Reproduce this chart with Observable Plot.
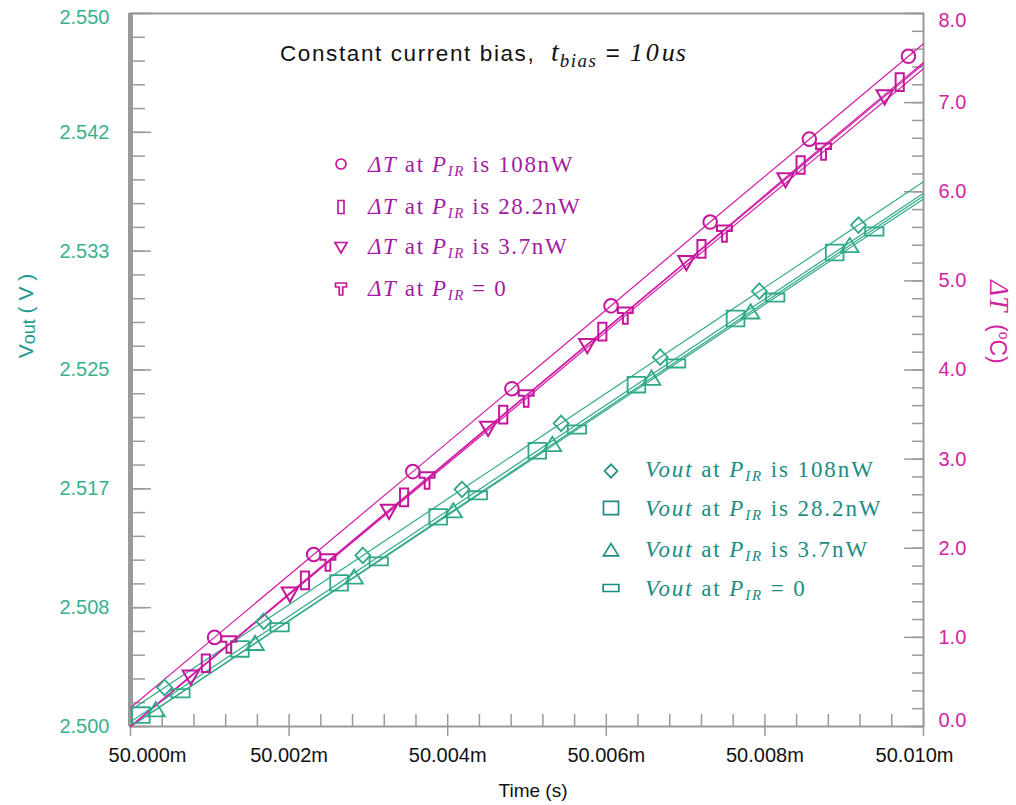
<!DOCTYPE html>
<html><head><meta charset="utf-8">
<script src="https://cdn.jsdelivr.net/npm/d3@7"></script>
<script src="https://cdn.jsdelivr.net/npm/@observablehq/plot@0.6"></script>
<style>
body{margin:0;background:#fff;}
#chart{position:relative;width:1016px;height:805px;}
</style>
</head><body><div id="chart"></div>
<script>
// ---------- data ----------
const xDomain = [50.000, 50.010];      // ms
const yDomain = [2.500, 2.550];        // Vout (V)
const dtDomain = [0, 8];               // ΔT (°C)

// time values: microseconds after 50.000 ms
// ΔT series (right axis)
const dt108_t = [1.06, 2.31, 3.56, 4.81, 6.06, 7.31, 8.56, 9.81];
const dt108_v = [1.00, 1.93, 2.86, 3.79, 4.72, 5.66, 6.59, 7.52];
const dt108_ends = [0.21, 7.66];
const dt28_t = [0.95, 2.20, 3.45, 4.70, 5.95, 7.20, 8.45, 9.70];
const dt28_v = [0.71, 1.64, 2.57, 3.50, 4.43, 5.36, 6.30, 7.23];
const dt28_ends = [0, 7.45];
const dt37_t = [0.76, 2.01, 3.26, 4.51, 5.76, 7.01, 8.26, 9.51];
const dt37_v = [0.56, 1.49, 2.42, 3.35, 4.28, 5.21, 6.14, 7.07];
const dt37_ends = [0, 7.43];
const dt0_t = [1.24, 2.49, 3.74, 4.99, 6.24, 7.49, 8.74];
const dt0_v = [0.92, 1.84, 2.76, 3.68, 4.61, 5.53, 6.45];
const dt0_ends = [0, 7.38];

// Vout series (left axis)
const vo108_t = [0.43, 1.68, 2.93, 4.18, 5.43, 6.68, 7.93, 9.18];
const vo108_v = [2.50273, 2.50737, 2.51200, 2.51663, 2.52126, 2.52590, 2.53053, 2.53516];
const vo108_ends = [2.50114, 2.53820];
const vo28_t = [0.13, 1.38, 2.63, 3.88, 5.13, 6.38, 7.63, 8.88];
const vo28_v = [2.50080, 2.50544, 2.51007, 2.51470, 2.51934, 2.52397, 2.52861, 2.53324];
const vo28_ends = [2.50032, 2.53739];
const vo37_t = [0.32, 1.57, 2.82, 4.07, 5.32, 6.57, 7.82, 9.07];
const vo37_v = [2.50119, 2.50584, 2.51049, 2.51514, 2.51979, 2.52444, 2.52909, 2.53374];
const vo37_ends = [2.50000, 2.53720];
const vo0_t = [0.63, 1.88, 3.13, 4.38, 5.63, 6.88, 8.13, 9.38];
const vo0_v = [2.50233, 2.50696, 2.51158, 2.51621, 2.52083, 2.52546, 2.53008, 2.53471];
const vo0_ends = [2.50000, 2.53700];

// ticks
const xMajor = [50.000, 50.002, 50.004, 50.006, 50.008, 50.010];
const xLabels = ["50.000m", "50.002m", "50.004m", "50.006m", "50.008m", "50.010m"];
const yMajor = [2.500, 2.500 + 0.05/6, 2.500 + 0.1/6, 2.525, 2.500 + 0.2/6, 2.500 + 0.25/6, 2.550];
const yLabels = ["2.500", "2.508", "2.517", "2.525", "2.533", "2.542", "2.550"];
const dtMajor = [0, 1, 2, 3, 4, 5, 6, 7, 8];
const dtLabels = ["0.0", "1.0", "2.0", "3.0", "4.0", "5.0", "6.0", "7.0", "8.0"];

const legendDT = [" is 108nW", " is 28.2nW", " is 3.7nW", " = 0"];
const legendVo = [" is 108nW", " is 28.2nW", " is 3.7nW", " = 0"];

// ---------- helpers ----------
const toV = d => yDomain[0] + (d - dtDomain[0]) * (yDomain[1] - yDomain[0]) / (dtDomain[1] - dtDomain[0]);
const tms = us => 50 + us / 1000;
function pts(ts, vs, conv = v => v) { return ts.map((t, i) => ({t: tms(t), v: conv(vs[i])})); }
function linePts(ts, vs, ends, conv = v => v) {
  return [{t: tms(0), v: conv(ends[0])}, ...pts(ts, vs, conv), {t: tms(10), v: conv(ends[1])}];
}
function poly(points) {
  return {draw(ctx, size) {
    const r = Math.sqrt(size / Math.PI);
    points.forEach(([x, y], i) => i ? ctx.lineTo(x * r, y * r) : ctx.moveTo(x * r, y * r));
    ctx.closePath();
  }};
}
const rectSym = (w, h) => poly([[-w, -h], [w, -h], [w, h], [-w, h]]);
const symTall = rectSym(0.6, 1.3);
const symInvTri = poly([[-1.2, -0.9], [1.2, -0.9], [0, 1.2]]);
const symT = poly([[-1.1, -1.2], [1.1, -1.2], [1.1, -0.4], [0.35, -0.4], [0.35, 1.2], [-0.35, 1.2], [-0.35, -0.4], [-1.1, -0.4]]);
const symDiamond = poly([[0, -1.15], [1.1, 0], [0, 1.15], [-1.1, 0]]);
const symSquare = rectSym(1.3, 1.15);
const symTri = poly([[-1.3, 1.0], [1.3, 1.0], [0, -1.1]]);
const symFlat = rectSym(1.35, 0.6);
const symCircle = {draw(ctx, size) { const r = Math.sqrt(size / Math.PI); ctx.moveTo(r, 0); ctx.arc(0, 0, r, 0, 2 * Math.PI); }};

const MAG = "#d21ca6", MAGM = "#c4179c", MAGT = "#d424a2", MAGL = "#a21ca2";
const TEA = "#30a98a", TEAT = "#3bb08e", TEAL2 = "#1c8c84";
const GRAY = "#9a9a9a";

const dtSeries = [
  {t: dt108_t, v: dt108_v, e: dt108_ends, s: symCircle, r: 6.8},
  {t: dt28_t, v: dt28_v, e: dt28_ends, s: symTall, r: 6.8},
  {t: dt37_t, v: dt37_v, e: dt37_ends, s: symInvTri, r: 6.8},
  {t: dt0_t, v: dt0_v, e: dt0_ends, s: symT, r: 6.8}
];
const voSeries = [
  {t: vo108_t, v: vo108_v, e: vo108_ends, s: symDiamond, r: 6.8},
  {t: vo28_t, v: vo28_v, e: vo28_ends, s: symSquare, r: 6.8},
  {t: vo37_t, v: vo37_v, e: vo37_ends, s: symTri, r: 6.8},
  {t: vo0_t, v: vo0_v, e: vo0_ends, s: symFlat, r: 6.8}
];

const xMinor = d3.range(0, 26).map(i => 50 + i * 0.0004).filter(v => !xMajor.some(m => Math.abs(m - v) < 1e-9));
const yMinor = d3.range(0, 31).map(i => 2.5 + i * 0.05 / 30);
const dtMinor = d3.range(0, 41).map(i => i * 0.2);

const marks = [
  Plot.frame({stroke: GRAY, strokeWidth: 2}),
  Plot.ruleX([xDomain[0]], {stroke: GRAY, strokeWidth: 5}),
  // left axis
  Plot.axisY(yMinor, {anchor: "left", tickSize: 15, dx: 15, fill: "none", stroke: GRAY, strokeWidth: 1.5, label: null}),
  Plot.axisY(yMajor, {anchor: "left", tickSize: 21, dx: 21, fill: "none", stroke: GRAY, strokeWidth: 1.5, label: null}),
  Plot.axisY(yMajor.slice(0, 6), {anchor: "left", tickSize: 0, tickPadding: 21, fill: TEAT, fontSize: 20,
    tickFormat: v => yLabels[yMajor.indexOf(v)], label: null}),
  Plot.axisY(yMajor.slice(6), {anchor: "left", tickSize: 0, tickPadding: 21, dy: 4, fill: TEAT, fontSize: 20,
    tickFormat: v => yLabels[yMajor.indexOf(v)], label: null}),
  // right axis
  Plot.axisY(dtMinor.map(toV), {anchor: "right", tickSize: 12, dx: -12, fill: "none", stroke: GRAY, strokeWidth: 1.5, label: null}),
  Plot.axisY(dtMajor.map(toV), {anchor: "right", tickSize: 20, dx: -20, fill: "none", stroke: GRAY, strokeWidth: 1.5, label: null}),
  Plot.axisY(dtMajor.slice(1, 8).map(toV), {anchor: "right", tickSize: 0, tickPadding: 15, fill: MAGT, fontSize: 20,
    tickFormat: v => dtLabels[Math.round((v - 2.5) * 160)], label: null}),
  Plot.axisY([toV(0)], {anchor: "right", tickSize: 0, tickPadding: 15, dy: -6, fill: MAGT, fontSize: 20,
    tickFormat: () => dtLabels[0], label: null}),
  Plot.axisY([toV(8)], {anchor: "right", tickSize: 0, tickPadding: 15, dy: 7, fill: MAGT, fontSize: 20,
    tickFormat: () => dtLabels[8], label: null}),
  // bottom axis
  Plot.axisX(xMinor, {anchor: "bottom", tickSize: 12, dy: -12, fill: "none", stroke: GRAY, strokeWidth: 1.5, label: null}),
  Plot.axisX(xMajor, {anchor: "bottom", tickSize: 22, dy: -12, fill: "none", stroke: GRAY, strokeWidth: 1.5, label: null}),
  Plot.axisX(xMajor.slice(1, 5), {anchor: "bottom", tickSize: 0, tickPadding: 21, fill: "#111", fontSize: 20,
    tickFormat: v => xLabels[xMajor.indexOf(v)], label: null}),
  Plot.axisX([xMajor[0]], {anchor: "bottom", tickSize: 0, tickPadding: 21, dx: 17, fill: "#111", fontSize: 20,
    tickFormat: () => xLabels[0], label: null}),
  Plot.axisX([xMajor[5]], {anchor: "bottom", tickSize: 0, tickPadding: 21, dx: -9, fill: "#111", fontSize: 20,
    tickFormat: () => xLabels[5], label: null}),
];
voSeries.forEach(s => {
  marks.push(Plot.line(linePts(s.t, s.v, s.e), {x: "t", y: "v", stroke: TEA, strokeWidth: 1.2}));
});
dtSeries.forEach(s => {
  marks.push(Plot.line(linePts(s.t, s.v, s.e, toV), {x: "t", y: "v", stroke: MAG, strokeWidth: 1.2}));
});
voSeries.forEach(s => {
  marks.push(Plot.dot(pts(s.t, s.v), {x: "t", y: "v", symbol: s.s, r: s.r, stroke: TEA, strokeWidth: 1.8, fill: "none"}));
});
dtSeries.forEach(s => {
  marks.push(Plot.dot(pts(s.t, s.v, toV), {x: "t", y: "v", symbol: s.s, r: s.r, stroke: MAGM, strokeWidth: 2, fill: "none"}));
});

const chart = Plot.plot({
  width: 1016, height: 805,
  marginLeft: 130, marginRight: 93, marginTop: 13, marginBottom: 79,
  x: {domain: xDomain},
  y: {domain: yDomain},
  style: {fontFamily: "'Liberation Sans', Arial, sans-serif", fontSize: "20px", background: "#fff", overflow: "visible"},
  marks
});
document.getElementById("chart").appendChild(chart);

// ---------- annotations (titles, legend) ----------
const svg = d3.select(chart);
const g = svg.append("g").attr("text-anchor", "start");
const SERIF = "'Liberation Serif', 'Times New Roman', serif";

function rich(parent, x, y, parts, attrs = {}) {
  const t = parent.append("text").attr("x", x).attr("y", y).attr("text-anchor", "start");
  Object.entries(attrs).forEach(([k, v]) => t.attr(k, v));
  parts.forEach(p => {
    const s = t.append("tspan").text(p.text);
    if (p.italic) s.attr("font-style", "italic");
    if (p.size) s.attr("font-size", p.size);
    if (p.family) s.attr("font-family", p.family);
    if (p.dy) s.attr("dy", p.dy);
    if (p.ls != null) s.attr("letter-spacing", p.ls);
  });
  return t;
}

// title
rich(g, 280, 61, [
  {text: "Constant current bias,  "},
  {text: "t", italic: true, family: SERIF, size: 28, ls: 1},
  {text: "bias", italic: true, family: SERIF, size: 19, dy: 6, ls: 1.5},
  {text: " = ", dy: -6, size: 24},
  {text: "10", italic: true, family: SERIF, size: 26, ls: 3},
  {text: "us", italic: true, family: SERIF, size: 26, ls: 1}
], {"font-size": 22.5, fill: "#111", "font-family": "'Liberation Sans', Arial, sans-serif", "letter-spacing": 1.6});

// legends
const dtLegendY = [172, 214, 254, 296];
const dtSymY = [164, 207, 247, 289];
dtSeries.forEach((s, i) => {
  g.append("path").attr("transform", `translate(341,${dtSymY[i]})`)
    .attr("d", d3.symbol(s.s, 5 * 5 * Math.PI)()).attr("fill", "none").attr("stroke", MAGM).attr("stroke-width", 1.7);
  rich(g, 368, dtLegendY[i], [
    {text: "ΔT", italic: true},
    {text: " at "},
    {text: "P", italic: true},
    {text: "IR", italic: true, size: 15, dy: 4},
    {text: legendDT[i], dy: -4}
  ], {"font-family": SERIF, "font-size": 23, fill: MAGL, "letter-spacing": 1.6});
});
const voLegendY = [477, 516, 557, 596];
const voSymY = [471, 508, 550, 588];
voSeries.forEach((s, i) => {
  g.append("path").attr("transform", `translate(611,${voSymY[i]})`)
    .attr("d", d3.symbol(s.s, 5.8 * 5.8 * Math.PI)()).attr("fill", "none").attr("stroke", TEAL2).attr("stroke-width", 1.7);
  rich(g, 645, voLegendY[i], [
    {text: "Vout", italic: true},
    {text: " at "},
    {text: "P", italic: true},
    {text: "IR", italic: true, size: 15, dy: 4},
    {text: legendVo[i], dy: -4}
  ], {"font-family": SERIF, "font-size": 23, fill: TEAL2, "letter-spacing": 1.9});
});

// axis titles
rich(g, 0, 0, [
  {text: "V"},
  {text: "out", size: 18, dy: 2},
  {text: " ( V )", dy: -2}
], {transform: "translate(33,316) rotate(-90)", "text-anchor": "middle", "font-size": 21, fill: "#1f9a90"});

rich(g, 0, 0, [
  {text: "ΔT", italic: true, family: SERIF, size: 27},
  {text: "  ("},
  {text: "o", size: 14, dy: -9},
  {text: "C)", dy: 9}
], {transform: "translate(990,322) rotate(90)", "text-anchor": "middle", "font-size": 23, fill: MAGT});

g.append("text").attr("x", 533).attr("y", 797).attr("text-anchor", "middle")
  .attr("font-size", 19).attr("fill", "#111").text("Time (s)");
</script>
</body></html>
